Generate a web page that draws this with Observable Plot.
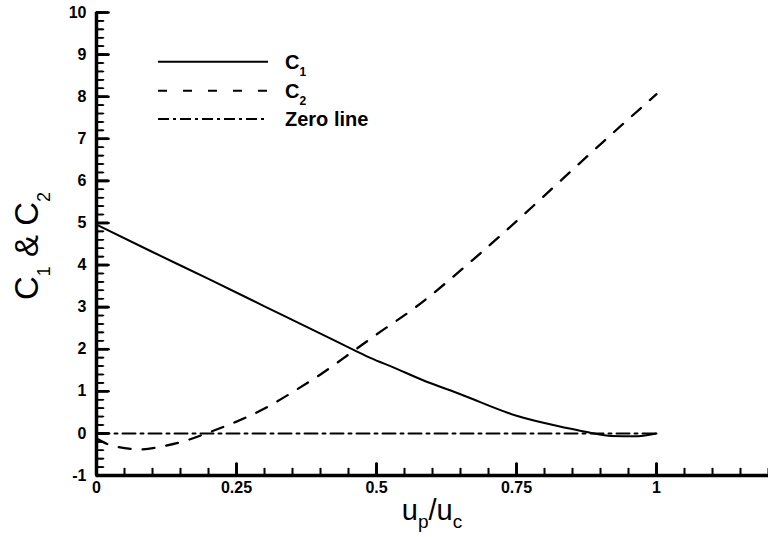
<!DOCTYPE html>
<html>
<head>
<meta charset="utf-8">
<script src="https://cdn.jsdelivr.net/npm/d3@7"></script>
<script src="https://cdn.jsdelivr.net/npm/@observablehq/plot@0.6"></script>
<style>
  html, body { margin: 0; padding: 0; background: #fff; }
  #chart { width: 768px; height: 537px; }
</style>
</head>
<body>
<div id="chart"></div>
<script>
// ---- data ----
const c1X = [0, 0.1, 0.2, 0.3, 0.4, 0.46, 0.49, 0.53, 0.58, 0.65, 0.75, 0.84, 0.88, 0.92, 0.96, 1.0];
const c1Y = [4.96, 4.31, 3.67, 3.02, 2.37, 1.98, 1.79, 1.57, 1.28, 0.93, 0.42, 0.13, 0.02, -0.06, -0.07, 0.0];

const c2X = [0, 0.03, 0.08, 0.12, 0.16, 0.2, 0.25, 0.3, 0.35, 0.4, 0.46, 0.5, 0.57, 0.67, 0.73, 0.8, 0.89, 1.0];
const c2Y = [-0.12, -0.30, -0.38, -0.30, -0.17, 0.02, 0.28, 0.59, 0.98, 1.40, 1.97, 2.35, 3.0, 4.1, 4.8, 5.65, 6.75, 8.06];

const zeroX = [0, 1];
const zeroY = [0, 0];

const seriesNames = ["C1", "C2", "Zero line"];

const xMajorTicks = [0, 0.25, 0.5, 0.75, 1];
const xTickLabels = ["0", "0.25", "0.5", "0.75", "1"];
const xMinorTicks = d3.range(0, 1.2001, 0.05).map(v => +v.toFixed(2));

const yMajorTicks = [-1, 0, 1, 2, 3, 4, 5, 6, 7, 8, 9, 10];
const yTickLabels = ["-1", "0", "1", "2", "3", "4", "5", "6", "7", "8", "9", "10"];
const yMinorTicks = d3.range(-1, 10.0001, 0.2).map(v => +v.toFixed(1));

const xDomain = [0, 1.2];
const yDomain = [-1, 10];

(function () {
  // ---- tables ----
  const c1Data = c1X.map((x, i) => ({x, y: c1Y[i]}));
  const c2Data = c2X.map((x, i) => ({x, y: c2Y[i]}));
  const zeroData = zeroX.map((x, i) => ({x, y: zeroY[i]}));
  const xLabelMap = new Map(xMajorTicks.map((v, i) => [v, xTickLabels[i]]));
  const yLabelMap = new Map(yMajorTicks.map((v, i) => [v, yTickLabels[i]]));

  const FONT = "'Liberation Sans', Arial, Helvetica, sans-serif";
  const W = 768, H = 537, ML = 96, MR = 0, MT = 12, MB = 62;
  const plotW = W - ML - MR, plotH = H - MT - MB;
  const xPerPx = (xDomain[1] - xDomain[0]) / plotW;
  const yPerPx = (yDomain[1] - yDomain[0]) / plotH;
  const minorLen = 7, majorLen = 12;

  // tick segments as two-point paths (one z group per tick)
  const ySegs = (ticks, len, tag) => ticks.flatMap((v, i) => [
    {x: xDomain[0], y: v, k: tag + i},
    {x: xDomain[0] + len * xPerPx, y: v, k: tag + i}
  ]);
  const xSegs = (ticks, len, tag) => ticks.flatMap((v, i) => [
    {x: v, y: yDomain[0], k: tag + i},
    {x: v, y: yDomain[0] + len * yPerPx, k: tag + i}
  ]);

  const chart = Plot.plot({
    width: W, height: H, marginLeft: ML, marginRight: MR, marginTop: MT, marginBottom: MB,
    style: {fontFamily: FONT, background: "#fff", color: "#000", overflow: "visible"},
    x: {domain: xDomain, label: null},
    y: {domain: yDomain, label: null},
    marks: [
      // inward ticks (axis tick marks shifted inside the frame)
      Plot.axisY(yMinorTicks, {tickSize: minorLen, dx: minorLen, fill: "none", strokeWidth: 1.6, label: null}),
      Plot.axisX(xMinorTicks, {tickSize: minorLen, dy: -minorLen, fill: "none", strokeWidth: 1.6, label: null}),
      Plot.axisY(yMajorTicks, {tickSize: majorLen, dx: majorLen, fill: "none", strokeWidth: 2.6, label: null}),
      Plot.axisX(xMajorTicks, {tickSize: majorLen, dy: -majorLen, fill: "none", strokeWidth: 2.6, label: null}),
      // same ticks as short path segments
      Plot.line(ySegs(yMinorTicks, minorLen, "ym"), {x: "x", y: "y", z: "k", stroke: "#000", strokeWidth: 1.6}),
      Plot.line(xSegs(xMinorTicks, minorLen, "xm"), {x: "x", y: "y", z: "k", stroke: "#000", strokeWidth: 1.6}),
      Plot.line(ySegs(yMajorTicks, majorLen, "yM"), {x: "x", y: "y", z: "k", stroke: "#000", strokeWidth: 2.6}),
      Plot.line(xSegs(xMajorTicks, majorLen, "xM"), {x: "x", y: "y", z: "k", stroke: "#000", strokeWidth: 2.6}),
      // series
      Plot.line(zeroData, {x: "x", y: "y", stroke: "#000", strokeWidth: 2, strokeDasharray: "13,5,3,5"}),
      Plot.line(c2Data, {x: "x", y: "y", stroke: "#000", strokeWidth: 2.3, strokeDasharray: "12,12", curve: "monotone-x"}),
      Plot.line(c1Data, {x: "x", y: "y", stroke: "#000", strokeWidth: 2, curve: "monotone-x"}),
      // tick labels
      Plot.axisY(yMajorTicks, {tickSize: 0, tickPadding: 10, fontSize: 16, fontWeight: "bold",
        tickFormat: d => yLabelMap.get(d), label: null}),
      Plot.axisX(xMajorTicks, {tickSize: 0, tickPadding: 6, fontSize: 16, fontWeight: "bold",
        tickFormat: d => xLabelMap.get(d), label: null}),
      // axis lines
      Plot.ruleX([xDomain[0]], {y1: yDomain[0], y2: yDomain[1], strokeWidth: 3.5}),
      Plot.ruleY([yDomain[0]], {x1: xDomain[0], x2: xDomain[1], strokeWidth: 3.5})
    ]
  });

  document.getElementById("chart").appendChild(chart);

  const svg = d3.select(chart);

  // ---- y axis title: C1 & C2 ----
  const yt = svg.append("text")
    .attr("transform", "translate(38,246) rotate(-90)")
    .attr("text-anchor", "middle")
    .attr("font-family", FONT)
    .attr("font-size", 33)
    .attr("fill", "#000");
  yt.append("tspan").text("C");
  yt.append("tspan").attr("font-size", 18).attr("dy", 12).text("1");
  yt.append("tspan").attr("dy", -12).text(" & C");
  yt.append("tspan").attr("font-size", 18).attr("dy", 12).text("2");

  // ---- x axis title: up/uc ----
  const xt = svg.append("text")
    .attr("x", 432).attr("y", 520)
    .attr("text-anchor", "middle")
    .attr("font-family", FONT)
    .attr("font-size", 29)
    .attr("fill", "#000");
  xt.append("tspan").text("u");
  xt.append("tspan").attr("font-size", 19).attr("dy", 8).text("p");
  xt.append("tspan").attr("dy", -8).text("/u");
  xt.append("tspan").attr("font-size", 19).attr("dy", 8).text("c");

  // ---- legend ----
  const legendStyles = [null, "9,16", "11,4,3,4"];
  const legendRows = [61.7, 90.7, 119];
  const lg = svg.append("g").attr("font-family", FONT).attr("font-weight", "bold").attr("text-anchor", "start");
  seriesNames.forEach((name, i) => {
    const y = legendRows[i];
    const ln = lg.append("line")
      .attr("x1", 158).attr("x2", 268).attr("y1", y).attr("y2", y)
      .attr("stroke", "#000").attr("stroke-width", 2);
    if (legendStyles[i]) ln.attr("stroke-dasharray", legendStyles[i]);
    const t = lg.append("text").attr("x", 285).attr("y", y + 7).attr("font-size", 20)
      .attr("fill", "#000").attr("text-anchor", "start");
    const m = name.match(/^C(\d)$/);
    if (m) {
      t.append("tspan").text("C");
      t.append("tspan").attr("font-size", 12).attr("dy", 7).text(m[1]);
    } else {
      t.text(name);
    }
  });
})();
</script>
</body>
</html>
